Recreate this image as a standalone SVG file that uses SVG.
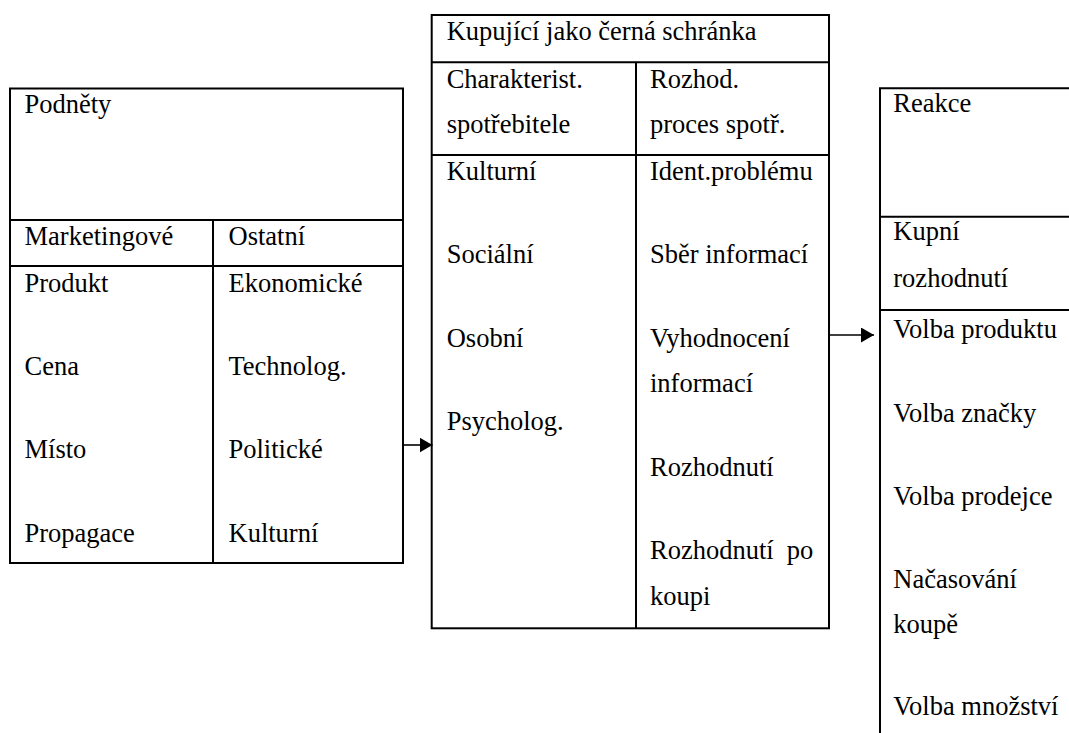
<svg xmlns="http://www.w3.org/2000/svg" width="1069" height="733" viewBox="0 0 1069 733">
<defs>
<marker id="ah" markerUnits="userSpaceOnUse" markerWidth="14" markerHeight="16" refX="13" refY="7.5" orient="auto">
<path d="M0,0 L13,7.5 L0,15 Z" fill="#000"/>
</marker>
</defs>
<rect width="1069" height="733" fill="#fff"/>
<g stroke="#000" stroke-width="2">
<g id="podnety">
<rect fill="none" x="10" y="88.5" width="393" height="474.5"/>
<line x1="10" y1="220" x2="403" y2="220"/>
<line x1="10" y1="266" x2="403" y2="266"/>
<line x1="213" y1="220" x2="213" y2="563"/>
<g stroke="none" fill="#000">
<text style="font-family:'Liberation Serif',serif;font-size:26.5px" x="24.5" y="113">Podněty</text>
<text style="font-family:'Liberation Serif',serif;font-size:26.5px" x="24.5" y="245">Marketingové</text>
<text style="font-family:'Liberation Serif',serif;font-size:26.5px" x="228.5" y="245">Ostatní</text>
<text style="font-family:'Liberation Serif',serif;font-size:26.5px" x="24.5" y="292">Produkt</text>
<text style="font-family:'Liberation Serif',serif;font-size:26.5px" x="228.5" y="292">Ekonomické</text>
<text style="font-family:'Liberation Serif',serif;font-size:26.5px" x="24.5" y="375">Cena</text>
<text style="font-family:'Liberation Serif',serif;font-size:26.5px" x="228.5" y="375">Technolog.</text>
<text style="font-family:'Liberation Serif',serif;font-size:26.5px" x="24.5" y="458">Místo</text>
<text style="font-family:'Liberation Serif',serif;font-size:26.5px" x="228.5" y="458">Politické</text>
<text style="font-family:'Liberation Serif',serif;font-size:26.5px" x="24.5" y="542">Propagace</text>
<text style="font-family:'Liberation Serif',serif;font-size:26.5px" x="228.5" y="542">Kulturní</text>
</g>
</g>
<g id="kupujici">
<rect fill="none" x="431.7" y="15" width="397.3" height="613.3"/>
<line x1="431.7" y1="62.3" x2="829" y2="62.3"/>
<line x1="431.7" y1="155" x2="829" y2="155"/>
<line x1="636" y1="62.3" x2="636" y2="628.3"/>
<g stroke="none" fill="#000">
<text style="font-family:'Liberation Serif',serif;font-size:26.5px" x="446.7" y="40">Kupující jako černá schránka</text>
<text style="font-family:'Liberation Serif',serif;font-size:26.5px" x="446.7" y="88">Charakterist.</text>
<text style="font-family:'Liberation Serif',serif;font-size:26.5px" x="446.7" y="133">spotřebitele</text>
<text style="font-family:'Liberation Serif',serif;font-size:26.5px" x="650" y="88">Rozhod.</text>
<text style="font-family:'Liberation Serif',serif;font-size:26.5px" x="650" y="133">proces spotř.</text>
<text style="font-family:'Liberation Serif',serif;font-size:26.5px" x="446.7" y="180">Kulturní</text>
<text style="font-family:'Liberation Serif',serif;font-size:26.5px" x="446.7" y="263">Sociální</text>
<text style="font-family:'Liberation Serif',serif;font-size:26.5px" x="446.7" y="347">Osobní</text>
<text style="font-family:'Liberation Serif',serif;font-size:26.5px" x="446.7" y="430">Psycholog.</text>
<text style="font-family:'Liberation Serif',serif;font-size:26.5px" x="650" y="180">Ident.problému</text>
<text style="font-family:'Liberation Serif',serif;font-size:26.5px" x="650" y="263">Sběr informací</text>
<text style="font-family:'Liberation Serif',serif;font-size:26.5px" x="650" y="347">Vyhodnocení</text>
<text style="font-family:'Liberation Serif',serif;font-size:26.5px" x="650" y="392">informací</text>
<text style="font-family:'Liberation Serif',serif;font-size:26.5px" x="650" y="476">Rozhodnutí</text>
<text style="font-family:'Liberation Serif',serif;font-size:26.5px" x="650" y="559">Rozhodnutí<tspan x="786.7">po</tspan></text>
<text style="font-family:'Liberation Serif',serif;font-size:26.5px" x="650" y="605">koupi</text>
</g>
</g>
<g id="reakce">
<path fill="none" d="M1075,88.3 H880 V740"/>
<line x1="880" y1="216.7" x2="1075" y2="216.7"/>
<line x1="880" y1="310" x2="1075" y2="310"/>
<g stroke="none" fill="#000">
<text style="font-family:'Liberation Serif',serif;font-size:26.5px" x="893.3" y="112">Reakce</text>
<text style="font-family:'Liberation Serif',serif;font-size:26.5px" x="893.3" y="240">Kupní</text>
<text style="font-family:'Liberation Serif',serif;font-size:26.5px" x="893.3" y="287">rozhodnutí</text>
<text style="font-family:'Liberation Serif',serif;font-size:26.5px" x="893.3" y="338">Volba produktu</text>
<text style="font-family:'Liberation Serif',serif;font-size:26.5px" x="893.3" y="422">Volba značky</text>
<text style="font-family:'Liberation Serif',serif;font-size:26.5px" x="893.3" y="505">Volba prodejce</text>
<text style="font-family:'Liberation Serif',serif;font-size:26.5px" x="893.3" y="588">Načasování</text>
<text style="font-family:'Liberation Serif',serif;font-size:26.5px" x="893.3" y="633">koupě</text>
<text style="font-family:'Liberation Serif',serif;font-size:26.5px" x="893.3" y="715">Volba množství</text>
</g>
</g>
</g>
<g id="connectors" stroke="#000" stroke-width="1.6" fill="none">
<line x1="403" y1="445" x2="432.5" y2="445" marker-end="url(#ah)"/>
<line x1="829" y1="335" x2="874" y2="335" marker-end="url(#ah)"/>
</g>
</svg>
